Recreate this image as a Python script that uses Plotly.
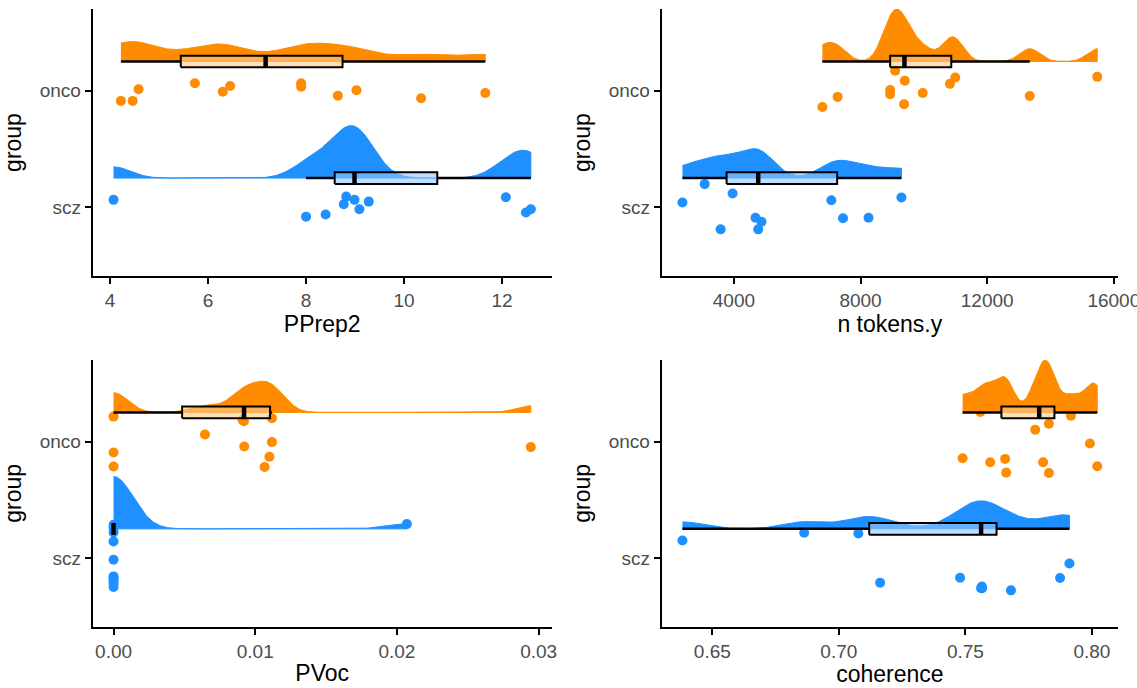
import numpy as np
import plotly.graph_objects as go

# ---------------- data ----------------
group_names = ["scz", "onco"]
group_positions = [1, 2]
tick_text_y = ["scz", "onco"]

pprep2_onco = [4.22, 4.46, 4.58, 5.73, 6.30, 6.45, 7.90, 7.90, 8.65, 9.03, 10.35, 11.66]
pprep2_onco_jit = [-0.088, -0.088, 0.012, 0.063, -0.009, 0.040, 0.063, 0.034, -0.043, 0.003, -0.065, -0.020]
pprep2_scz = [4.07, 8.00, 8.40, 8.77, 8.82, 8.99, 9.09, 9.28, 12.08, 12.49, 12.59]
pprep2_scz_jit = [0.063, -0.081, -0.063, 0.026, 0.091, 0.063, -0.017, 0.048, 0.086, -0.046, -0.017]

ntok_onco = [6794, 7276, 9094, 9398, 8935, 8935, 9376, 9965, 10824, 10992, 13345, 15477]
ntok_onco_jit = [-0.141, -0.054, 0.170, 0.084, 0.006, -0.031, -0.117, -0.020, 0.058, 0.112, -0.046, 0.118]
ntok_scz = [2375, 3077, 3581, 3959, 4683, 4872, 4768, 7077, 7446, 8252, 9291]
ntok_scz_jit = [0.040, 0.198, -0.190, 0.117, -0.090, -0.124, -0.190, 0.060, -0.095, -0.090, 0.083]

pvoc_onco = [0.0, 0.0, 0.0, 0.00645, 0.0091, 0.0092, 0.00922, 0.01118, 0.01118, 0.0110, 0.01066, 0.02945]
pvoc_onco_jit = [0.214, -0.094, -0.214, 0.060, 0.186, 0.175, -0.043, 0.200, -0.005, -0.131, -0.219, -0.048]
pvoc_scz = [0.0, 0.0, 0.0, 0.0, 0.0, 0.0, 0.0, 0.0, 0.0, 0.0, 0.0207]
pvoc_scz_jit = [0.285, 0.260, 0.220, 0.142, -0.015, -0.158, -0.173, -0.192, -0.220, -0.249, 0.291]

coh_onco = [0.7489, 0.7598, 0.7657, 0.7661, 0.7776, 0.7830, 0.7807, 0.7830, 0.7917, 0.7992, 0.8021, 0.7559]
coh_onco_jit = [-0.143, -0.178, -0.149, -0.267, 0.101, 0.153, -0.178, -0.270, 0.222, -0.017, -0.212, 0.253]
coh_scz = [0.6382, 0.6863, 0.7077, 0.7163, 0.7479, 0.7562, 0.7565, 0.7566, 0.7680, 0.7874, 0.7911]
coh_scz_jit = [0.150, 0.216, 0.210, -0.212, -0.169, -0.259, -0.245, -0.260, -0.278, -0.172, -0.048]

panel_titles = ["PPrep2", "n tokens.y", "PVoc", "coherence"]
panel_ticks = [
    [4, 6, 8, 10, 12],
    [4000, 8000, 12000, 16000],
    [0.00, 0.01, 0.02, 0.03],
    [0.65, 0.70, 0.75, 0.80],
]
panel_ticktext = [
    ["4", "6", "8", "10", "12"],
    ["4000", "8000", "12000", "16000"],
    ["0.00", "0.01", "0.02", "0.03"],
    ["0.65", "0.70", "0.75", "0.80"],
]
panels = [
    {"scz": (pprep2_scz, pprep2_scz_jit), "onco": (pprep2_onco, pprep2_onco_jit)},
    {"scz": (ntok_scz, ntok_scz_jit), "onco": (ntok_onco, ntok_onco_jit)},
    {"scz": (pvoc_scz, pvoc_scz_jit), "onco": (pvoc_onco, pvoc_onco_jit)},
    {"scz": (coh_scz, coh_scz_jit), "onco": (coh_onco, coh_onco_jit)},
]

# ---------------- styling ----------------
colors = {"scz": "#1E90FF", "onco": "#FF8C00"}
box_fill = {"scz": "rgba(150,200,255,0.6)", "onco": "rgba(255,200,140,0.6)"}
FONT = "Liberation Sans, Arial, sans-serif"
NUDGE = 0.25
HALF = 0.45
BOXW = 0.1
BW_ADJUST = 0.4


def bw_nrd0(x):
    x = np.asarray(x, float)
    hi = np.std(x, ddof=1)
    iqr = np.subtract(*np.percentile(x, [75, 25]))
    lo = min(hi, iqr / 1.34)
    if not lo:
        lo = hi or abs(x[0]) or 1.0
    return 0.9 * lo * len(x) ** (-0.2)


def kde(x, grid):
    x = np.asarray(x, float)
    bw = bw_nrd0(x) * BW_ADJUST
    z = (grid[:, None] - x[None, :]) / bw
    return np.exp(-0.5 * z ** 2).sum(axis=1) / (len(x) * bw * np.sqrt(2 * np.pi))


def box_stats(x):
    x = np.asarray(x, float)
    q1, med, q3 = np.percentile(x, [25, 50, 75])
    iqr = q3 - q1
    lo = x[x >= q1 - 1.5 * iqr].min()
    hi = x[x <= q3 + 1.5 * iqr].max()
    return q1, med, q3, lo, hi


fig = go.Figure()

xdomains = [[92.7 / 1137, 551.7 / 1137], [661.7 / 1137, 1118 / 1137]]
ydomains = [[1 - 276 / 688, 1 - 9 / 688], [1 - 626.7 / 688, 1 - 360 / 688]]

for k, panel in enumerate(panels):
    ax = "" if k == 0 else str(k + 1)
    xref, yref = "x" + ax, "y" + ax
    allvals = np.concatenate([np.asarray(panel[g][0], float) for g in group_names])
    span = allvals.max() - allvals.min()
    xr = [allvals.min() - 0.05 * span, allvals.max() + 0.05 * span]

    # densities (area scaling within each panel)
    dens = {}
    for g in group_names:
        vals = np.asarray(panel[g][0], float)
        grid = np.linspace(vals.min(), vals.max(), 512)
        dens[g] = (grid, kde(vals, grid))
    dmax = max(d[1].max() for d in dens.values())

    for g, pos in zip(group_names, group_positions):
        grid, d = dens[g]
        base = pos + NUDGE
        xs = np.concatenate([grid, grid[::-1]])
        ys = np.concatenate([base + d / dmax * HALF, np.full(len(grid), base)])
        fig.add_trace(go.Scatter(x=xs, y=ys, mode="lines", fill="toself",
                                 fillcolor=colors[g], line=dict(color=colors[g], width=1),
                                 xaxis=xref, yaxis=yref, hoverinfo="skip", showlegend=False))

    for g, pos in zip(group_names, group_positions):
        vals, jit = panel[g]
        fig.add_trace(go.Scatter(x=vals, y=[pos + j for j in jit], mode="markers",
                                 marker=dict(color=colors[g], size=10, line=dict(width=0)),
                                 xaxis=xref, yaxis=yref, showlegend=False, name=g))

    for g, pos in zip(group_names, group_positions):
        vals = panel[g][0]
        q1, med, q3, lo, hi = box_stats(vals)
        base = pos + NUDGE
        fig.add_trace(go.Scatter(x=[lo, q1, None, q3, hi], y=[base, base, None, base, base],
                                 mode="lines", line=dict(color="black", width=2.5),
                                 xaxis=xref, yaxis=yref, hoverinfo="skip", showlegend=False))
        fig.add_trace(go.Scatter(x=[q1, q3, q3, q1, q1],
                                 y=[base - BOXW / 2, base - BOXW / 2, base + BOXW / 2, base + BOXW / 2, base - BOXW / 2],
                                 mode="lines", fill="toself", fillcolor=box_fill[g],
                                 line=dict(color="black", width=2),
                                 xaxis=xref, yaxis=yref, hoverinfo="skip", showlegend=False))
        fig.add_trace(go.Scatter(x=[med, med], y=[base - BOXW / 2, base + BOXW / 2],
                                 mode="lines", line=dict(color="black", width=4.5),
                                 xaxis=xref, yaxis=yref, hoverinfo="skip", showlegend=False))

    col, row = k % 2, k // 2
    fig.layout["xaxis" + ax] = dict(
        domain=xdomains[col], anchor=yref, range=xr, automargin=False,
        tickvals=panel_ticks[k], ticktext=panel_ticktext[k],
        showline=True, linecolor="black", linewidth=2, mirror=False,
        ticks="outside", ticklen=6, tickwidth=2, tickcolor="black",
        showgrid=False, zeroline=False, ticklabeloverflow="allow",
        tickfont=dict(family=FONT, size=19, color="#4D4D4D"),
        title=dict(text=panel_titles[k], font=dict(family=FONT, size=23, color="black"), standoff=4),
    )
    fig.layout["yaxis" + ax] = dict(
        domain=ydomains[row], anchor=xref, range=[0.41, 2.70], automargin=False,
        tickvals=group_positions, ticktext=tick_text_y,
        showline=True, linecolor="black", linewidth=2,
        ticks="outside", ticklen=6, tickwidth=2, tickcolor="black",
        showgrid=False, zeroline=False,
        tickfont=dict(family=FONT, size=19, color="#4D4D4D"),
        title=dict(text="group", font=dict(family=FONT, size=23, color="black"), standoff=12),
    )

fig.update_layout(
    width=1137, height=688,
    margin=dict(l=0, r=0, t=0, b=0, pad=0, autoexpand=False),
    paper_bgcolor="white", plot_bgcolor="white",
    showlegend=False,
)

fig.write_html("out.html", config={"displayModeBar": False},
               post_script="document.body.style.margin='0';document.body.style.padding='0';")
